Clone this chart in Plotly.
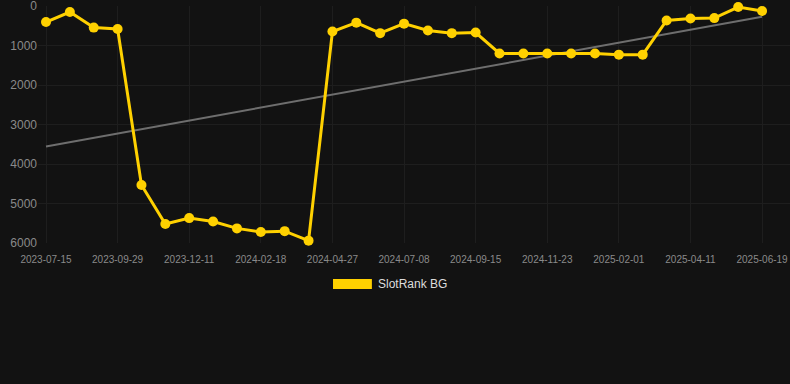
import numpy as np
import plotly.graph_objects as go

# ---- data ----
tick_labels = ["2023-07-15", "2023-09-29", "2023-12-11", "2024-02-18", "2024-04-27",
               "2024-07-08", "2024-09-15", "2024-11-23", "2025-02-01", "2025-04-11",
               "2025-06-19"]
rank_values = [405, 150, 545, 580, 4530, 5520, 5370, 5455, 5630, 5720, 5700, 5940,
               645, 420, 685, 445, 620, 685, 670, 1200, 1200, 1200, 1200, 1200,
               1230, 1230, 365, 315, 305, 25, 125]
y_ticks = [0, 1000, 2000, 3000, 4000, 5000, 6000]
series_name = "SlotRank BG"

idx = np.arange(len(rank_values))
tick_positions = list(range(0, len(rank_values), 3))

slope, intercept = np.polyfit(idx, rank_values, 1)
trend_x = [idx[0], idx[-1]]
trend_y = [intercept + slope * idx[0], intercept + slope * idx[-1]]

BG = "#121212"
GOLD = "#FFD100"
GRID = "#1e1e1e"
FONT = "Liberation Sans, Arial, sans-serif"

fig = go.Figure()
fig.add_trace(go.Scatter(
    x=trend_x, y=trend_y, mode="lines",
    line=dict(color="#6e6e6e", width=2), showlegend=False, hoverinfo="skip"))
fig.add_trace(go.Scatter(
    x=idx, y=rank_values, mode="lines+markers", name=series_name,
    line=dict(color=GOLD, width=3), marker=dict(color=GOLD, size=10),
    showlegend=False, cliponaxis=False))

fig.update_layout(
    width=790, height=384,
    paper_bgcolor=BG, plot_bgcolor=BG,
    margin=dict(l=38, r=0, t=6, b=141),
    font=dict(family=FONT, size=10, color="#8a8a8a"),
    xaxis=dict(range=[-0.335, 31.17], tickmode="array", tickvals=tick_positions,
               ticktext=tick_labels, showgrid=True, gridcolor=GRID, gridwidth=1,
               zeroline=False, showline=False, ticks="outside", ticklen=7,
               tickcolor="rgba(0,0,0,0)", tickfont=dict(size=10, color="#8a8a8a"),
               ticklabeloverflow="allow"),
    yaxis=dict(range=[6000, -2], tickmode="array", tickvals=y_ticks,
               showgrid=True, gridcolor=GRID, gridwidth=1, zeroline=False,
               showline=False, ticks="", tickfont=dict(size=12, color="#8a8a8a"),
               ticklabeloverflow="allow"),
    shapes=[dict(type="rect", xref="paper", yref="paper",
                 x0=0.3923, x1=0.444, y0=-0.194, y1=-0.152,
                 fillcolor=GOLD, line=dict(width=0))],
    annotations=[dict(text=series_name, xref="paper", yref="paper",
                      x=0.4495, y=-0.173, xanchor="left", yanchor="middle",
                      showarrow=False, font=dict(family=FONT, size=12, color="#dddddd"))],
)

fig.write_html("out.html", config={"displayModeBar": False},
               post_script="document.body.style.margin='0';document.body.style.background='#121212';")
